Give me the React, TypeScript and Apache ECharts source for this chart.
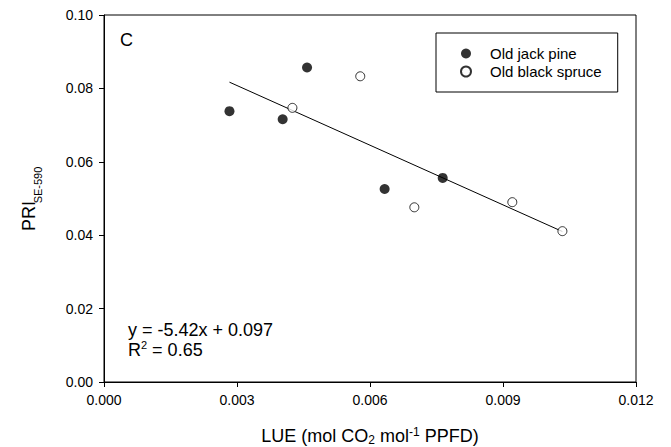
import React, { useEffect, useRef } from "react";
import * as echarts from "echarts";

const jackPineX = [0.00283, 0.00403, 0.00458, 0.00633, 0.00764];
const jackPineY = [0.0738, 0.0716, 0.0857, 0.0526, 0.0556];
const spruceX = [0.00425, 0.00578, 0.0070, 0.00921, 0.01034];
const spruceY = [0.0747, 0.0833, 0.0476, 0.0490, 0.0411];
const fitX = [0.00283, 0.01034];
const fitY = [0.0817, 0.0410];
const xTicks = { min: 0, max: 0.012, interval: 0.003 };
const yTicks = { min: 0, max: 0.1, interval: 0.02 };
const seriesNames = ["Old jack pine", "Old black spruce"];

const FONT = "'Liberation Sans', Arial, Helvetica, sans-serif";

export default function App() {
  const ref = useRef<HTMLDivElement>(null);
  useEffect(() => {
    if (!ref.current) return;
    const chart = echarts.init(ref.current, undefined, { renderer: "svg" });
    const zip = (xs: number[], ys: number[]) => xs.map((x, i) => [x, ys[i]]);
    chart.setOption({
      animation: false,
      backgroundColor: "#fff",
      textStyle: { fontFamily: FONT, color: "#000" },
      grid: {
        left: 104,
        right: 35,
        top: 15,
        bottom: 65,
        containLabel: false,
        outerBoundsMode: "none",
        show: true,
        borderColor: "#000",
        borderWidth: 1,
      },
      legend: {
        data: seriesNames,
        orient: "vertical",
        left: 436,
        top: 33,
        padding: [13, 16, 13, 24],
        itemWidth: 38,
        itemHeight: 10,
        itemGap: 3,
        borderColor: "#000",
        borderWidth: 1,
        borderRadius: 0,
        textStyle: { fontSize: 15, color: "#000", fontFamily: FONT },
      },
      xAxis: {
        type: "value",
        min: xTicks.min,
        max: xTicks.max,
        interval: xTicks.interval,
        splitLine: { show: false },
        axisLine: { show: true, lineStyle: { color: "#000", width: 1 } },
        axisTick: { show: true, inside: false, length: 5, lineStyle: { color: "#000" } },
        axisLabel: {
          color: "#000",
          fontSize: 14,
          margin: 11,
          fontFamily: FONT,
          formatter: (v: number) => v.toFixed(3),
        },
        name: "{n|LUE (mol CO}{sub|2}{n| mol}{sup|-1}{n| PPFD)}",
        nameLocation: "middle",
        nameGap: 44,
        nameTextStyle: {
          rich: {
            n: { fontSize: 18, lineHeight: 20, color: "#000", fontFamily: FONT },
            sub: { fontSize: 12, lineHeight: 12, verticalAlign: "bottom", color: "#000", fontFamily: FONT },
            sup: { fontSize: 12, lineHeight: 12, verticalAlign: "top", color: "#000", fontFamily: FONT },
          },
        },
      },
      yAxis: {
        type: "value",
        min: yTicks.min,
        max: yTicks.max,
        interval: yTicks.interval,
        splitLine: { show: false },
        axisLine: { show: true, lineStyle: { color: "#000", width: 1 } },
        axisTick: { show: true, inside: false, length: 5, lineStyle: { color: "#000" } },
        axisLabel: {
          color: "#000",
          fontSize: 14,
          margin: 11,
          fontFamily: FONT,
          formatter: (v: number) => v.toFixed(2),
        },
      },
      graphic: [
        {
          type: "text",
          x: 29,
          y: 216,
          rotation: Math.PI / 2,
          style: { text: "PRI", fill: "#000", font: `18px ${FONT}`, align: "center", verticalAlign: "middle" },
        },
        {
          type: "text",
          x: 38,
          y: 185,
          rotation: Math.PI / 2,
          style: { text: "SE-590", fill: "#000", font: `11px ${FONT}`, align: "center", verticalAlign: "middle" },
        },
        {
          type: "text",
          x: 120,
          y: 40,
          style: { text: "C", fill: "#000", font: `18px ${FONT}`, align: "left", verticalAlign: "middle" },
        },
        {
          type: "text",
          x: 128,
          y: 330,
          style: { text: "y = -5.42x + 0.097", fill: "#000", font: `18px ${FONT}`, align: "left", verticalAlign: "middle" },
        },
        {
          type: "text",
          x: 128,
          y: 350,
          style: {
            text: "{n|R}{sup|2}{n| = 0.65}",
            align: "left",
            verticalAlign: "middle",
            rich: {
              n: { fontSize: 18, lineHeight: 22, fill: "#000", fontFamily: FONT },
              sup: { fontSize: 11, lineHeight: 11, verticalAlign: "top", fill: "#000", fontFamily: FONT },
            },
          },
        },
      ],
      series: [
        {
          name: "fit",
          type: "line",
          data: zip(fitX, fitY),
          symbol: "none",
          lineStyle: { color: "#000", width: 1 },
          z: 1,
        },
        {
          name: seriesNames[0],
          type: "scatter",
          data: zip(jackPineX, jackPineY),
          symbol: "circle",
          symbolSize: 10,
          itemStyle: { color: "#000" },
          z: 3,
        },
        {
          name: seriesNames[1],
          type: "scatter",
          data: zip(spruceX, spruceY),
          symbol: "circle",
          symbolSize: 9,
          itemStyle: { color: "#fff", borderColor: "#000", borderWidth: 1 },
          z: 3,
        },
      ],
    });
    return () => chart.dispose();
  }, []);
  return (
    <div
      ref={ref}
      style={{ position: "fixed", left: 0, top: 0, width: 671, height: 447, background: "#fff" }}
    />
  );
}
